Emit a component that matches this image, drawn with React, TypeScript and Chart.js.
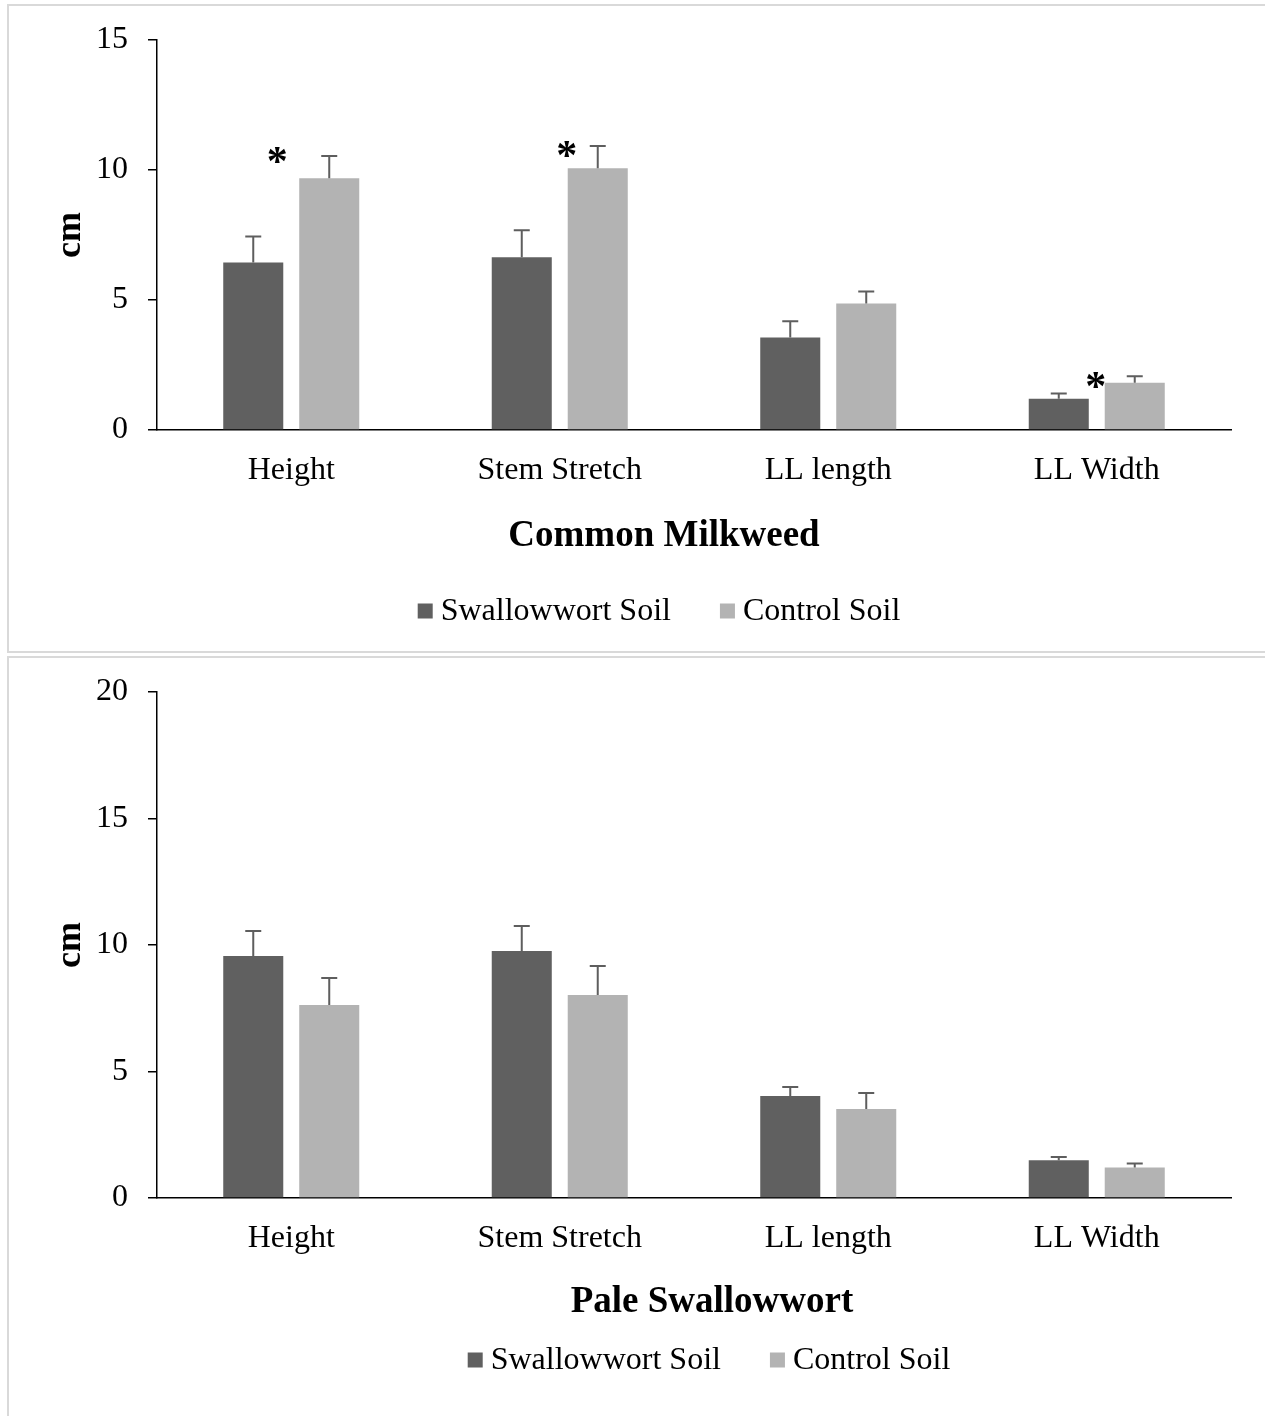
import React, { useEffect, useRef } from "react";
import { Chart, registerables } from "chart.js";

Chart.register(...registerables);

const FONT = "'Liberation Serif', 'Times New Roman', serif";

const categories = ["Height", "Stem Stretch", "LL length", "LL Width"];
const seriesNames = ["Swallowwort Soil", "Control Soil"];
const seriesColors = ["#606060", "#b3b3b3"];
const errorColor = "#5e5e5e";

// Common Milkweed
const milkweedTitle = "Common Milkweed";
const milkweedSwallowwort = [6.44, 6.64, 3.56, 1.2];
const milkweedSwallowwortSE = [1.0, 1.04, 0.62, 0.2];
const milkweedControl = [9.68, 10.07, 4.87, 1.82];
const milkweedControlSE = [0.86, 0.85, 0.46, 0.25];
const milkweedAsterisks = [10.57, 10.8, null, 1.9];
const milkweedMax = 15;

// Pale Swallowwort
const paleTitle = "Pale Swallowwort";
const paleSwallowwort = [9.57, 9.76, 4.03, 1.49];
const paleSwallowwortSE = [0.98, 0.99, 0.36, 0.13];
const paleControl = [7.63, 8.02, 3.52, 1.21];
const paleControlSE = [1.07, 1.15, 0.63, 0.15];
const paleAsterisks: (number | null)[] = [null, null, null, null];
const paleMax = 20;

const tickStep = 5;
const yAxisTitle = "cm";

const errorBarPlugin = {
  id: "errorBars",
  afterDatasetsDraw(chart: any) {
    const ctx = chart.ctx;
    const yScale = chart.scales.y;
    chart.data.datasets.forEach((ds: any, i: number) => {
      const meta = chart.getDatasetMeta(i);
      meta.data.forEach((bar: any, j: number) => {
        const v = ds.data[j];
        const e = ds.errors[j];
        const yTop = yScale.getPixelForValue(v + e);
        ctx.save();
        ctx.strokeStyle = errorColor;
        ctx.lineWidth = 2;
        ctx.beginPath();
        ctx.moveTo(bar.x, bar.y);
        ctx.lineTo(bar.x, yTop);
        ctx.moveTo(bar.x - 8, yTop);
        ctx.lineTo(bar.x + 8, yTop);
        ctx.stroke();
        ctx.restore();
      });
    });
  },
};

const annotationPlugin = {
  id: "annotations",
  afterDraw(chart: any, _args: any, opts: any) {
    const ctx = chart.ctx;
    const xScale = chart.scales.x;
    const yScale = chart.scales.y;
    // significance asterisks
    const aSize = 42;
    ctx.save();
    ctx.fillStyle = "#000";
    ctx.font = `bold ${aSize}px ${FONT}`;
    ctx.textAlign = "center";
    ctx.textBaseline = "alphabetic";
    (opts.asterisks || []).forEach((lvl: number | null, j: number) => {
      if (lvl == null) return;
      const x = xScale.getPixelForValue(j) + (opts.asteriskDx[j] || 0);
      const y = yScale.getPixelForValue(lvl);
      ctx.fillText("*", x, y + aSize * 0.47);
    });
    ctx.restore();

    // axis caption (chart title under the axis)
    ctx.save();
    ctx.fillStyle = "#000";
    ctx.font = `bold 37px ${FONT}`;
    ctx.textAlign = "center";
    ctx.textBaseline = "middle";
    ctx.fillText(opts.title, opts.titleX, opts.titleY);
    ctx.restore();

    // legend
    ctx.save();
    ctx.font = `32px ${FONT}`;
    ctx.textBaseline = "middle";
    ctx.textAlign = "left";
    const box = 15;
    const gapText = 8;
    const gapItem = 49;
    const widths = seriesNames.map((n) => box + gapText + ctx.measureText(n).width);
    const total = widths.reduce((a, b) => a + b, 0) + gapItem * (seriesNames.length - 1);
    let x = opts.legendCx - total / 2;
    const cy = opts.legendCy;
    seriesNames.forEach((n, i) => {
      ctx.fillStyle = seriesColors[i];
      ctx.fillRect(x, cy - box / 2, box, box);
      ctx.fillStyle = "#000";
      ctx.fillText(n, x + box + gapText, cy + 1);
      x += widths[i] + gapItem;
    });
    ctx.restore();
  },
};

function makeConfig(p: {
  a: number[];
  aSE: number[];
  b: number[];
  bSE: number[];
  max: number;
  xHeight: number;
  asterisks: (number | null)[];
  asteriskDx: number[];
  title: string;
  titleX: number;
  titleY: number;
  legendCx: number;
  legendCy: number;
}): any {
  return {
    type: "bar",
    data: {
      labels: categories,
      datasets: [
        {
          label: seriesNames[0],
          data: p.a,
          errors: p.aSE,
          backgroundColor: seriesColors[0],
          categoryPercentage: 0.566,
          barPercentage: 0.79,
        },
        {
          label: seriesNames[1],
          data: p.b,
          errors: p.bSE,
          backgroundColor: seriesColors[1],
          categoryPercentage: 0.566,
          barPercentage: 0.79,
        },
      ],
    },
    options: {
      responsive: false,
      animation: false,
      events: [],
      layout: { padding: { top: 34, right: 34, left: 0, bottom: 0 } },
      plugins: {
        legend: { display: false },
        tooltip: { enabled: false },
        title: { display: false },
        annotations: {
          asterisks: p.asterisks,
          asteriskDx: p.asteriskDx,
          title: p.title,
          titleX: p.titleX,
          titleY: p.titleY,
          legendCx: p.legendCx,
          legendCy: p.legendCy,
        },
      },
      scales: {
        x: {
          afterFit: (s: any) => {
            s.height = p.xHeight;
          },
          grid: { display: false },
          border: { display: true, color: "#000", width: 1.5 },
          ticks: {
            color: "#000",
            padding: 13,
            font: { family: FONT, size: 32 },
            maxRotation: 0,
            autoSkip: false,
          },
        },
        y: {
          min: 0,
          max: p.max,
          afterFit: (s: any) => {
            s.width = 148;
          },
          grid: {
            display: true,
            drawOnChartArea: false,
            drawTicks: true,
            tickLength: 9,
            color: "#000",
            lineWidth: 1.5,
          },
          border: { display: true, color: "#000", width: 1.5 },
          ticks: {
            stepSize: tickStep,
            color: "#000",
            padding: 20,
            font: { family: FONT, size: 32, lineHeight: 0.8 },
          },
          title: {
            display: true,
            text: yAxisTitle,
            color: "#000",
            font: { family: FONT, size: 36, weight: "bold" },
            padding: { top: 40, bottom: 0 },
          },
        },
      },
    },
    plugins: [errorBarPlugin, annotationPlugin],
  };
}

function ChartCanvas({ config, width, height, left, top }: any) {
  const ref = useRef<HTMLCanvasElement | null>(null);
  useEffect(() => {
    if (!ref.current) return;
    const chart = new Chart(ref.current, config);
    return () => chart.destroy();
  }, []);
  return (
    <canvas
      ref={ref}
      width={width}
      height={height}
      style={{ position: "absolute", left, top, width, height }}
    />
  );
}

export default function App() {
  const topConfig = makeConfig({
    a: milkweedSwallowwort,
    aSE: milkweedSwallowwortSE,
    b: milkweedControl,
    bSE: milkweedControlSE,
    max: milkweedMax,
    xHeight: 221,
    asterisks: milkweedAsterisks,
    asteriskDx: [-14, 7, 0, -1],
    title: milkweedTitle,
    titleX: 655,
    titleY: 530,
    legendCx: 650,
    legendCy: 605,
  });
  const bottomConfig = makeConfig({
    a: paleSwallowwort,
    aSE: paleSwallowwortSE,
    b: paleControl,
    bSE: paleControlSE,
    max: paleMax,
    xHeight: 218,
    asterisks: paleAsterisks,
    asteriskDx: [0, 0, 0, 0],
    title: paleTitle,
    titleX: 703,
    titleY: 644,
    legendCx: 700,
    legendCy: 702,
  });
  return (
    <div
      style={{
        position: "fixed",
        left: 0,
        top: 0,
        width: "100vw",
        height: "100vh",
        overflow: "hidden",
        background: "#fff",
      }}
    >
      <div
        style={{
          position: "absolute",
          left: 7,
          top: 4,
          width: 1300,
          height: 649,
          boxSizing: "border-box",
          border: "2px solid #d9d9d9",
        }}
      />
      <div
        style={{
          position: "absolute",
          left: 7,
          top: 656,
          width: 1300,
          height: 800,
          boxSizing: "border-box",
          border: "2px solid #d9d9d9",
        }}
      />
      <ChartCanvas config={topConfig} width={1256} height={645} left={9} top={6} />
      <ChartCanvas config={bottomConfig} width={1256} height={758} left={9} top={658} />
    </div>
  );
}
